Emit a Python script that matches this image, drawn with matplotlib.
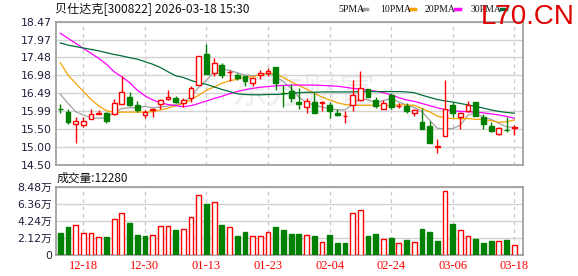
import matplotlib
matplotlib.use("Agg")
import matplotlib.pyplot as plt
from matplotlib.lines import Line2D
import numpy as np

plt.rcParams['font.family'] = ['Noto Sans CJK SC', 'DejaVu Sans']

# 数据
dates = ['12-15', '12-16', '12-17', '12-18', '12-19', '12-22', '12-23', '12-24', '12-25', '12-26',
         '12-29', '12-30', '12-31', '01-05', '01-06', '01-07', '01-08', '01-09', '01-12', '01-13',
         '01-14', '01-15', '01-16', '01-19', '01-20', '01-21', '01-22', '01-23', '01-26', '01-27',
         '01-28', '01-29', '01-30', '02-02', '02-03', '02-04', '02-05', '02-06', '02-09', '02-10',
         '02-11', '02-12', '02-13', '02-24', '02-25', '02-26', '02-27', '03-02', '03-03', '03-04',
         '03-05', '03-06', '03-09', '03-10', '03-11', '03-12', '03-13', '03-16', '03-17', '03-18']

opens = [16.05, 15.96, 15.64, 15.59, 15.76, 15.92, 15.93, 15.90, 16.18, 16.38,
         16.16, 15.89, 16.02, 16.18, 16.33, 16.35, 16.20, 16.34, 16.71, 17.57,
         17.04, 17.27, 17.06, 16.99, 16.95, 16.78, 17.00, 17.04, 17.21, 16.49,
         16.55, 16.25, 16.09, 16.25, 16.20, 16.15, 15.93, 15.84, 16.16, 16.30,
         16.59, 16.31, 16.06, 16.43, 16.12, 16.13, 15.93, 15.68, 15.57, 14.99,
         15.31, 16.16, 15.83, 16.00, 16.24, 15.83, 15.57, 15.36, 15.47, 15.52]
closes = [16.04, 15.69, 15.71, 15.71, 15.90, 15.94, 15.70, 16.20, 16.52, 16.17,
          16.02, 15.97, 16.04, 16.29, 16.37, 16.24, 16.31, 16.62, 17.52, 17.02,
          17.31, 16.98, 17.07, 16.92, 16.82, 16.90, 17.05, 17.09, 16.76, 16.48,
          16.36, 16.18, 16.27, 15.94, 16.24, 16.00, 15.88, 15.85, 16.43, 16.62,
          16.39, 16.14, 16.20, 16.10, 16.14, 16.00, 16.02, 15.50, 15.11, 15.01,
          16.06, 15.94, 15.94, 16.15, 15.86, 15.62, 15.44, 15.51, 15.46, 15.54]
highs = [16.19, 16.04, 15.83, 15.83, 16.04, 16.03, 15.95, 16.32, 16.95, 16.52,
         16.26, 16.03, 16.07, 16.33, 16.57, 16.40, 16.36, 16.68, 17.53, 17.86,
         17.47, 17.31, 17.14, 17.05, 16.97, 16.91, 17.12, 17.18, 17.22, 16.71,
         16.73, 16.64, 16.36, 16.48, 16.27, 16.23, 16.05, 15.99, 16.85, 17.10,
         16.61, 16.37, 16.31, 16.50, 16.20, 16.20, 16.05, 16.07, 15.71, 15.21,
         16.85, 16.25, 15.97, 16.27, 16.25, 15.91, 15.69, 15.55, 15.83, 15.60]
lows = [15.94, 15.62, 15.11, 15.55, 15.76, 15.92, 15.67, 15.88, 16.18, 16.13,
        15.96, 15.81, 15.83, 16.06, 16.30, 16.21, 16.11, 16.24, 16.70, 17.01,
        16.96, 16.92, 16.82, 16.85, 16.68, 16.68, 16.87, 16.96, 16.57, 16.11,
        16.25, 16.04, 15.94, 15.93, 16.00, 15.81, 15.86, 15.67, 15.99, 16.28,
        16.37, 16.08, 16.04, 16.04, 16.07, 15.93, 15.85, 15.49, 15.10, 14.83,
        15.30, 15.83, 15.50, 15.97, 15.85, 15.50, 15.42, 15.33, 15.40, 15.32]

ma5 = [16.46, 16.20, 15.97, 15.88, 15.80, 15.79, 15.80, 15.95, 16.06, 16.08,
       16.08, 16.12, 16.08, 16.10, 16.13, 16.17, 16.22, 16.40, 16.65, 16.85,
       17.08, 17.15, 17.12, 17.05, 16.99, 16.97, 16.99, 17.02, 16.96, 16.80,
       16.62, 16.38, 16.22, 16.16, 16.10, 16.06, 16.02, 16.02, 16.18, 16.34,
       16.30, 16.22, 16.28, 16.34, 16.24, 16.16, 16.09, 15.97, 15.74, 15.51,
       15.50, 15.50, 15.60, 15.88, 15.93, 15.81, 15.76, 15.65, 15.55, 15.54]
ma10 = [17.33, 16.99, 16.76, 16.53, 16.31, 16.13, 16.00, 15.95, 15.96, 15.96,
        15.96, 15.96, 15.97, 16.02, 16.07, 16.14, 16.20, 16.31, 16.43, 16.57,
        16.66, 16.76, 16.83, 16.87, 16.93, 16.94, 17.00, 17.04, 17.02, 16.92,
        16.80, 16.70, 16.60, 16.48, 16.38, 16.30, 16.22, 16.17, 16.15, 16.15,
        16.15, 16.15, 16.14, 16.14, 16.16, 16.16, 16.15, 16.06, 15.97, 15.85,
        15.80, 15.78, 15.78, 15.78, 15.76, 15.75, 15.72, 15.68, 15.69, 15.74]
ma20 = [18.15, 18.01, 17.87, 17.73, 17.59, 17.45, 17.29, 17.08, 16.94, 16.78,
        16.57, 16.41, 16.30, 16.22, 16.17, 16.14, 16.11, 16.14, 16.20, 16.27,
        16.34, 16.40, 16.47, 16.53, 16.58, 16.62, 16.65, 16.67, 16.69, 16.70,
        16.71, 16.71, 16.71, 16.71, 16.70, 16.69, 16.68, 16.65, 16.62, 16.60,
        16.57, 16.54, 16.50, 16.44, 16.36, 16.30, 16.26, 16.20, 16.14, 16.08,
        16.03, 16.00, 15.98, 15.97, 15.96, 15.94, 15.91, 15.88, 15.84, 15.79]
ma30 = [17.88, 17.82, 17.78, 17.74, 17.70, 17.66, 17.61, 17.56, 17.52, 17.47,
        17.43, 17.36, 17.29, 17.20, 17.08, 16.97, 16.92, 16.84, 16.77, 16.73,
        16.66, 16.59, 16.53, 16.47, 16.45, 16.44, 16.44, 16.45, 16.45, 16.46,
        16.49, 16.50, 16.51, 16.51, 16.52, 16.52, 16.52, 16.52, 16.52, 16.53,
        16.53, 16.53, 16.53, 16.53, 16.53, 16.52, 16.50, 16.43, 16.37, 16.31,
        16.27, 16.24, 16.20, 16.16, 16.12, 16.07, 16.02, 15.98, 15.95, 15.93]

volumes = [27500, 34900, 37000, 27100, 27100, 22200, 22400, 44400, 51800, 39500,
           25100, 23800, 24700, 35800, 35800, 31200, 32500, 46900, 74100, 63300,
           65800, 37400, 34500, 23800, 28800, 23400, 23400, 28400, 34900, 31200,
           26300, 26300, 24700, 23800, 16000, 25100, 15200, 15200, 51800, 55600,
           23800, 26300, 19700, 21400, 14800, 18900, 16400, 32500, 28800, 18100,
           79000, 38600, 31200, 23400, 20100, 15200, 17700, 17300, 18900, 12280]
vol_up = [0, 0, 1, 1, 1, 1, 0, 1, 1, 0, 0, 0, 1, 1, 1, 0, 1, 1, 1, 0,
          1, 0, 1, 0, 0, 1, 1, 1, 0, 0, 0, 0, 1, 0, 1, 0, 0, 0, 1, 1,
          0, 0, 1, 0, 1, 0, 1, 0, 0, 0, 1, 0, 1, 1, 0, 0, 0, 1, 0, 1]

price_ticks = [14.50, 15.00, 15.50, 15.99, 16.49, 16.98, 17.48, 17.97, 18.47]
vol_ticks = [0, 21200, 42400, 63600, 84800]
vol_tick_labels = ['0', '2.12万', '4.24万', '6.36万', '8.48万']

RED = '#ff0000'
GREEN = '#008000'
GRID = '#d2d2d2'
LABEL = '#1e1e3c'

x = np.arange(len(dates))
o = np.array(opens); c = np.array(closes)
up = c >= o

fig = plt.figure(figsize=(5.78, 2.76), dpi=100)
ax = fig.add_axes([56 / 578, 1 - 164.7 / 276, 466.7 / 578, 143 / 276])
axv = fig.add_axes([56 / 578, 1 - 255.3 / 276, 466.7 / 578, 68.6 / 276])

xtick_pos = x[3::8]
for a in (ax, axv):
    a.set_xlim(-0.56, 60.1)
    for s in a.spines.values():
        s.set_color('#9a9a9a')
        s.set_linewidth(1.2)
    a.tick_params(length=0, colors=LABEL)
    for xp in xtick_pos:
        a.axvline(xp, color='#c8c8c8', lw=0.9, ls=(0, (3, 3)), zorder=0)

# watermark
ax.text(0.53, 0.5, '东方财富', transform=ax.transAxes, ha='center', va='center',
        fontsize=26, color='#eeeef2', zorder=0, style='italic')

# price pane
ax.set_ylim(14.50, 18.47)
ax.set_yticks(price_ticks)
ax.set_yticklabels(['%.2f' % t for t in price_ticks], family='DejaVu Sans', fontsize=7.8)
ax.tick_params(axis='y', pad=3)
ax.set_xticks([])
ax.grid(axis='y', color=GRID, lw=1, zorder=0)

ax.plot(x, ma5, color='#a0a0a0', lw=0.9, zorder=2)
ax.plot(x, ma10, color='#f5a300', lw=0.9, zorder=2)
ax.plot(x, ma20, color='#ff00ff', lw=0.9, zorder=2)
ax.plot(x, ma30, color='#006f3a', lw=0.9, zorder=2)

cols = np.where(up, RED, GREEN)
ax.vlines(x, lows, highs, colors=cols, lw=1, zorder=3)
body_bot = np.minimum(o, c)
body_h = np.maximum(np.abs(c - o), 0.004)
ax.bar(x, body_h, bottom=body_bot, width=0.62,
       color=np.where(up, 'white', GREEN), edgecolor=cols, lw=1, zorder=4)

# volume pane
axv.set_ylim(0, 84800)
axv.set_yticks(vol_ticks)
axv.set_yticklabels(vol_tick_labels, family=['DejaVu Sans', 'Noto Sans CJK SC'], fontsize=7.8)
axv.tick_params(axis='y', pad=3)
axv.grid(axis='y', color=GRID, lw=1, zorder=0)
vup = np.array(vol_up, dtype=bool)
axv.bar(x, volumes, width=0.62, color=np.where(vup, 'white', GREEN),
        edgecolor=np.where(vup, RED, GREEN), lw=1, zorder=3)
axv.set_xticks(xtick_pos)
axv.set_xticklabels([dates[i] for i in xtick_pos], family='Liberation Serif',
                    fontsize=9, color=RED)
axv.tick_params(axis='x', pad=3.5)

# header texts
fig.text(55 / 578, 1 - 9 / 276, '贝仕达克[300822] 2026-03-18 15:30', fontsize=8.7,
         va='center', ha='left', color='#111')
fig.text(57 / 578, 1 - 178 / 276, '成交量:12280', fontsize=8.5, va='center', ha='left', color='#111')

legend = [('5PMA', '#a0a0a0', 338), ('10PMA', '#f5a300', 380),
          ('20PMA', '#ff00ff', 425), ('30PMA', '#006f3a', 471)]
for name, col, px in legend:
    fig.text(px / 578, 1 - 9 / 276, name, family='Liberation Serif', fontsize=7,
             va='center', ha='left', color='#111')
    x0 = px + 6.2 * len(name) - 1
    fig.add_artist(Line2D([x0 / 578, (x0 + 5) / 578], [1 - 9 / 276] * 2,
                          color=col, lw=2.5, transform=fig.transFigure))

fig.text(528 / 578, 1 - 17 / 276, 'L70.CN', family='Liberation Sans', fontsize=20,
         color='#e00000', ha='center', va='center')

fig.savefig('out.png', dpi=100)
